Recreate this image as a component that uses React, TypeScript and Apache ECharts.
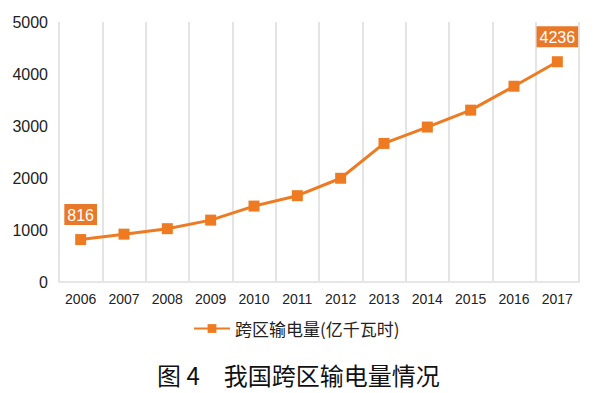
import React, { useEffect, useRef } from "react";
import * as echarts from "echarts";

const years = ["2006", "2007", "2008", "2009", "2010", "2011", "2012", "2013", "2014", "2015", "2016", "2017"];
const values = [816, 920, 1025, 1190, 1460, 1660, 1995, 2665, 2980, 3305, 3765, 4236];
const labeledIndices = [0, 11];
const seriesName = "跨区输电量(亿千瓦时)";
const titleText = "图 4　我国跨区输电量情况";

const ORANGE = "#EE7B22";

export default function App() {
  const ref = useRef<HTMLDivElement>(null);
  useEffect(() => {
    if (!ref.current) return;
    const chart = echarts.init(ref.current, null, { renderer: "svg" });
    chart.setOption({
      animation: false,
      backgroundColor: "#ffffff",
      title: {
        text: titleText,
        left: 152,
        top: 357,
        textStyle: { fontSize: 24, fontWeight: "normal", color: "#111", fontFamily: "Noto Sans CJK SC" },
      },
      legend: {
        data: [seriesName],
        left: 188,
        top: 315,
        itemWidth: 36,
        itemHeight: 11,
        itemGap: 3,
        textStyle: { fontSize: 17, color: "#222", fontFamily: "Noto Sans CJK SC" },
      },
      grid: { left: 59, right: 32, top: 22, bottom: 111, containLabel: false },
      xAxis: {
        type: "category",
        data: years,
        boundaryGap: true,
        axisLine: { show: true, lineStyle: { color: "#e6e6e6", width: 2 } },
        axisTick: { show: false },
        axisLabel: { fontSize: 14, color: "#222", margin: 10, fontFamily: "Liberation Sans, Arial, sans-serif" },
        splitLine: { show: true, interval: 0, lineStyle: { color: "#e4e4e4", width: 2 } },
      },
      yAxis: {
        type: "value",
        min: 0,
        max: 5000,
        interval: 1000,
        axisLine: { show: false },
        axisTick: { show: false },
        axisLabel: {
          fontSize: 16,
          color: "#222",
          margin: 11,
          fontFamily: "Liberation Sans, Arial, sans-serif",
          formatter: (v: number) => String(v),
        },
        splitLine: { show: false },
      },
      series: [
        {
          name: seriesName,
          type: "line",
          symbol: "rect",
          symbolSize: 11,
          itemStyle: { color: ORANGE },
          lineStyle: { color: ORANGE, width: 3 },
          data: values.map((v, i) =>
            labeledIndices.includes(i)
              ? {
                  value: v,
                  label: {
                    show: true,
                    position: "top",
                    distance: 9,
                    backgroundColor: "#E8782A",
                    color: "#ffffff",
                    fontSize: 16,
                    fontFamily: "Liberation Sans, Arial, sans-serif",
                    padding: [3, 3, 2, 3],
                  },
                }
              : v
          ),
        },
      ],
    });
    return () => chart.dispose();
  }, []);
  return <div ref={ref} style={{ width: 611, height: 393, position: "absolute", left: 0, top: 0 }} />;
}
